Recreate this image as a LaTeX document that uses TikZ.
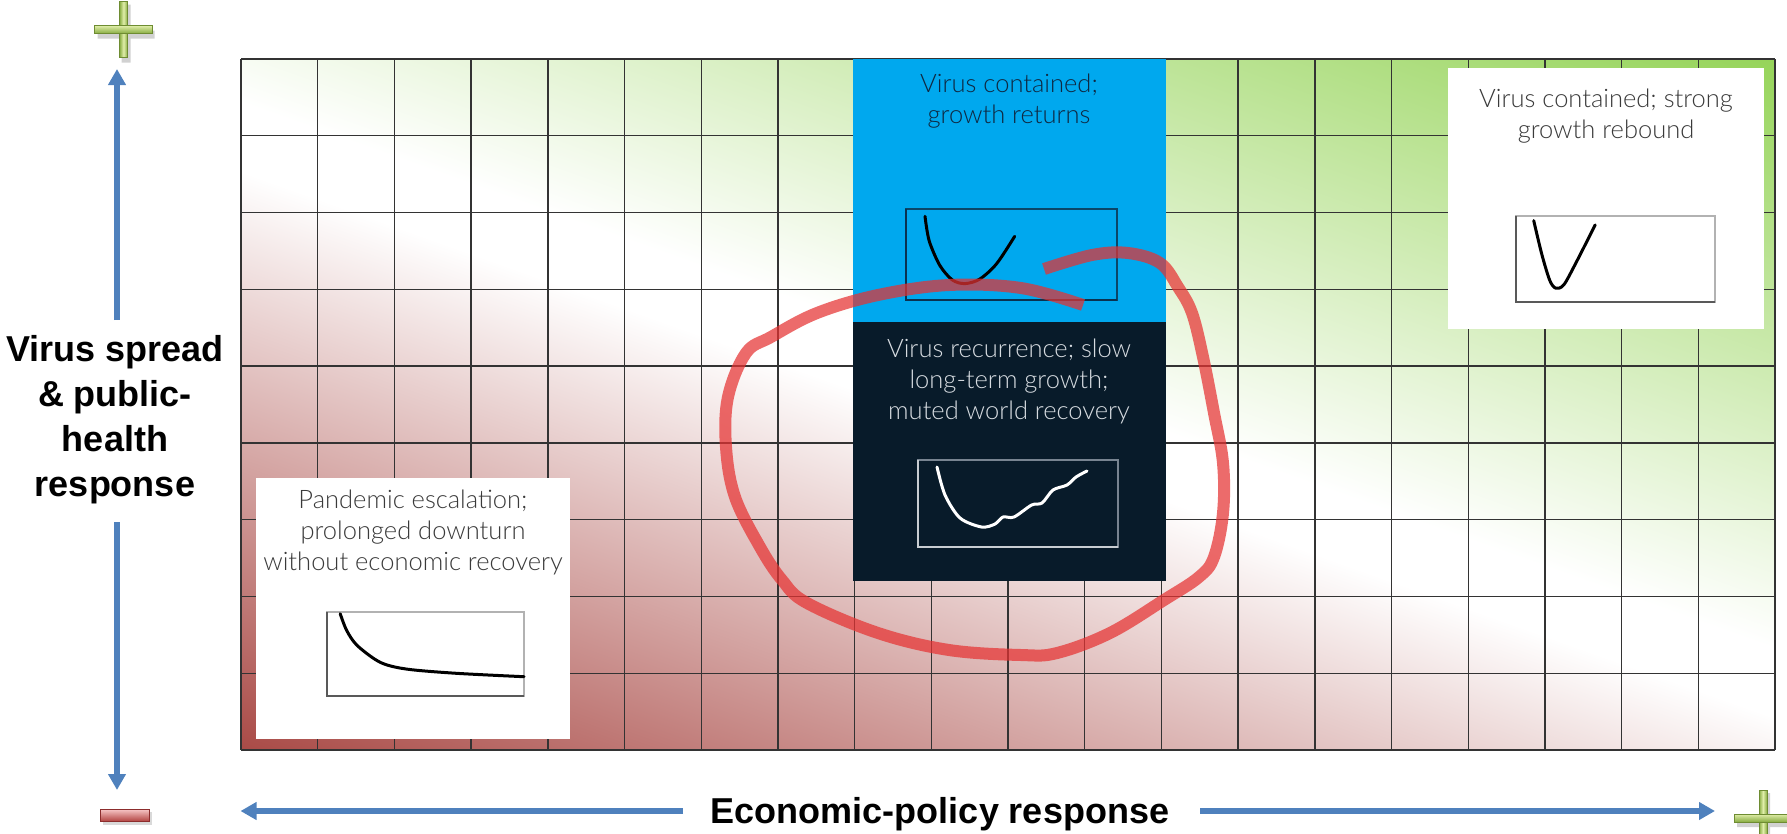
\documentclass[tikz,border=0pt]{standalone}
\usepackage{fontspec}
\setmainfont{Liberation Sans}
\IfFontExistsTF{Lato Light}{\newfontfamily\lightfont{Lato Light}}{\newfontfamily\lightfont{Lato}}
\usetikzlibrary{arrows.meta}

\definecolor{gred}{RGB}{168,72,68}
\definecolor{ggreen}{RGB}{150,212,90}
\definecolor{axisblue}{RGB}{79,129,189}
\definecolor{boxblue}{RGB}{0,168,238}
\definecolor{boxdark}{RGB}{8,27,42}
\definecolor{loopred}{RGB}{230,50,50}
\definecolor{bluetext}{RGB}{15,40,65}
\definecolor{darktext}{RGB}{215,220,225}
\definecolor{greytext}{RGB}{58,58,58}
\definecolor{plight}{RGB}{225,238,170}
\definecolor{pdark}{RGB}{135,172,65}
\definecolor{pedge}{RGB}{110,140,50}
\definecolor{mlight}{RGB}{248,200,200}
\definecolor{mdark}{RGB}{180,70,68}
\definecolor{medge}{RGB}{140,45,45}
\definecolor{bframe}{RGB}{10,70,105}
\definecolor{baxis}{RGB}{10,50,80}
\definecolor{dframe}{RGB}{120,132,145}
\definecolor{daxis}{RGB}{200,205,210}

\pgfdeclareverticalshading{gridshade}{100bp}{color(0bp)=(gred); color(31.7bp)=(gred); color(49bp)=(white); color(51bp)=(white); color(68.3bp)=(ggreen); color(100bp)=(ggreen)}

\newcommand\drawplus[2]{%
  \begin{scope}[transparency group, opacity=0.18]
    \fill[black] (#1-2,#2-25) rectangle (#1+7,#2+33);
    \fill[black] (#1-26,#2+1) rectangle (#1+31,#2+9);
  \end{scope}
  \shade[left color=pdark, right color=pdark, middle color=plight, draw=pedge, line width=0.6pt] (#1-4,#2-28) rectangle (#1+4,#2+28);
  \shade[top color=plight, bottom color=pdark, draw=pedge, line width=0.6pt] (#1-29,#2-4) rectangle (#1+29,#2+4);
}

\begin{document}
\begin{tikzpicture}[x=1pt,y=-1pt,
  gridline/.style={line width=1.4pt, black!80},
  panel/.style={rectangle, inner sep=0pt, outer sep=0pt, anchor=north west, draw=none},
  txt/.style={font=\lightfont\fontsize{25.5}{31}\selectfont, align=center, inner sep=0pt},
  chartframe/.style={rectangle, inner sep=0pt, outer sep=0pt, anchor=north west, line width=1.2pt},
  chartaxis/.style={line width=2.6pt},
  curve/.style={line width=3pt, line cap=round, line join=round},
  axisarrow/.style={line width=6pt, axisblue, -{Triangle[width=17pt,length=16pt]}},
  axislabel/.style={font=\bfseries\fontsize{36}{45}\selectfont, align=center, inner sep=0pt},
  redloop/.style={line width=12pt, loopred, opacity=0.72, line cap=butt, line join=round}
]
\useasboundingbox (0,0) rectangle (1787,833);

% background gradient of the grid
\begin{scope}
  \clip (241,59) rectangle (1775,750);
  \shade[shading=gridshade, shading angle=-19.6] (208,-390) rectangle (1808,1210);
\end{scope}

% grid
\foreach \i in {0,...,20} \draw[gridline] ({241+76.7*\i},59) -- ({241+76.7*\i},750);
\foreach \j in {0,...,9} \draw[gridline] (241,{59+76.78*\j}) -- (1775,{59+76.78*\j});

% panels
\node[panel, fill=boxblue, minimum width=313pt, minimum height=263pt] (bluebox) at (852.5,59) {};
\node[panel, fill=boxdark, minimum width=313pt, minimum height=259pt] (darkbox) at (852.5,322) {};
\node[panel, fill=white, minimum width=316pt, minimum height=261pt] (trbox) at (1448,68) {};
\node[panel, fill=white, minimum width=314pt, minimum height=261pt] (blbox) at (256,478) {};

% texts
\node[txt, text=bluetext] (bluetxt) at (1009,101) {\fontsize{25.5}{34}\selectfont Virus contained;\\growth returns};
\node[txt, text=darktext] (darktxt) at (1009,381) {Virus recurrence; slow\\long-term growth;\\muted world recovery};
\node[txt, text=greytext] (trtxt) at (1606,116) {Virus contained; strong\\growth rebound};
\node[txt, text=greytext] (bltxt) at (413,532) {Pandemic escalation;\\prolonged downturn\\without economic recovery};

% chart frames
\node[chartframe, draw=bframe, minimum width=211pt, minimum height=91pt] (bluechart) at (906,209) {};
\draw[chartaxis, baxis] (bluechart.north west) -- (bluechart.south west) -- (bluechart.south east);
\node[chartframe, draw=dframe, minimum width=200pt, minimum height=87pt] (darkchart) at (918,460) {};
\draw[chartaxis, daxis] (darkchart.north west) -- (darkchart.south west) -- (darkchart.south east);
\node[chartframe, draw=black!30, minimum width=199pt, minimum height=86pt] (trchart) at (1516,216) {};
\draw[chartaxis, black!65] (trchart.north west) -- (trchart.south west) -- (trchart.south east);
\node[chartframe, draw=black!30, minimum width=197pt, minimum height=84pt] (blchart) at (327,612) {};
\draw[chartaxis, black!65] (blchart.north west) -- (blchart.south west) -- (blchart.south east);

% curves
\draw[curve, black] plot[smooth] coordinates {(925,216.3) (929.2,240.9) (939.8,265.4) (952.4,280) (965,283.6) (979.9,279) (996.7,263.6) (1014.7,236.3)};
\draw[curve, white] plot[smooth] coordinates {(937,467) (945,495) (960,518) (981.6,527) (995,524) (1003,517) (1014,517) (1031.6,505) (1042,503) (1053,490) (1067,485) (1076,477) (1087,471)};
\draw[curve, black] plot[smooth] coordinates {(1533.7,220.6) (1541.9,254.7) (1549.8,280.5) (1555.8,288.2) (1563.8,284.8) (1575.7,263.3) (1595.2,224.9)};
\draw[curve, black] plot[smooth] coordinates {(340.2,613.7) (346.7,630.5) (357.3,645.6) (380.4,662.4) (406.8,669.1) (456.4,673.3) (524,676.7)};

% red loop
\draw[redloop] plot[smooth, tension=0.6] coordinates {(1044,269) (1092,255) (1128,253) (1160,263) (1178,287) (1192,313) (1203,357) (1214,413) (1223,463) (1223,513) (1214,557) (1199,577) (1164,600) (1110,633) (1057,653) (1021,655) (949,650) (878,633) (807,603) (782,580) (760,547) (735,497) (726,447) (728,397) (746,353) (771,337) (817,313) (878,295) (949,285) (1021,288) (1083,305)};

% vertical axis
\coordinate (vtip) at (117,69);
\coordinate (vtail) at (117,320);
\coordinate (dtail) at (117,522);
\coordinate (dtip) at (117,790);
\node[axislabel] (vlabel) at (115,420) {Virus spread\\\& public-\\health\\response};
\draw[axisarrow] (vtail) -- (vtip);
\draw[axisarrow] (dtail) -- (dtip);

% horizontal axis
\node[axislabel] (hlabel) at (940,814) {Economic-policy response};
\coordinate (ltail) at (683,811);
\coordinate (ltip) at (240.5,811);
\coordinate (rtail) at (1200,811);
\coordinate (rtip) at (1715,811);
\draw[axisarrow] (ltail) -- (ltip);
\draw[axisarrow] (rtail) -- (rtip);

% plus and minus signs
\drawplus{123.5}{29.5}
\drawplus{1763}{818}
\fill[black, opacity=0.15] (103,812) rectangle (152,825);
\shade[top color=mlight, bottom color=mdark, draw=medge, line width=0.6pt] (100,809) rectangle (149,821);
\end{tikzpicture}
\end{document}
